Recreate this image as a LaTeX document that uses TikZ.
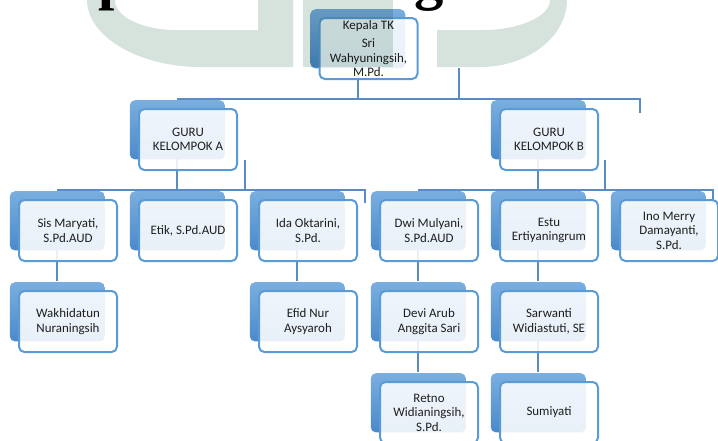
\documentclass[tikz,border=0pt]{standalone}
\usepackage{fontspec}
\setmainfont{Carlito}
\newfontfamily\headfont{Liberation Serif}
\usetikzlibrary{shadows,backgrounds}

\definecolor{boxblue}{HTML}{4A8ACB}
\definecolor{boxtop}{HTML}{7AAEDF}
\definecolor{rimblue}{HTML}{5B9BD5}
\definecolor{linkblue}{HTML}{5A8BC2}
\definecolor{markgreen}{HTML}{BBD0C6}
\definecolor{inktext}{HTML}{1E1E1E}

\begin{document}
\begin{tikzpicture}[x=0.75pt, y=0.75pt,
    member/.style={draw=rimblue, line width=1.5pt, rounded corners=4pt,
      fill=white, fill opacity=0.88, text opacity=1, text=inktext,
      minimum width=73.5pt, minimum height=45.75pt, inner sep=0pt,
      align=center, font=\fontsize{9.7}{10.9}\selectfont,
      general shadow={shadow xshift=-8.25pt, shadow yshift=7.5pt,
        shadow scale=0.97, draw=none, fill opacity=1,
        top color=boxtop, bottom color=boxblue}},
    conn/.style={draw=linkblue, line width=1.5pt}]
  \useasboundingbox (0,0) rectangle (718,-440);

  % the chart
  \path[every node/.style={member}, level distance=68.25pt,
      level 1/.style={sibling distance=270.75pt},
      level 2/.style={sibling distance=90pt},
      edge from parent/.style={draw=none}]
    (368.5,-48.5) node (kepala) {Kepala TK\\[3pt]Sri\\Wahyuningsih,\\M.Pd.}
    child {
      node (guruA) {GURU\\KELOMPOK A}
      child {
        node (sis) {Sis Maryati,\\S.Pd.AUD}
        child { node (wakhidatun) {Wakhidatun\\Nuraningsih} }
      }
      child { node (etik) {Etik, S.Pd.AUD} }
      child {
        node (ida) {Ida Oktarini,\\S.Pd.}
        child { node (efid) {Efid Nur\\Aysyaroh} }
      }
    }
    child {
      node (guruB) {GURU\\KELOMPOK B}
      child {
        node (dwi) {Dwi Mulyani,\\S.Pd.AUD}
        child {
          node (devi) {Devi Arub\\Anggita Sari}
          child { node (retno) {Retno\\Widianingsih,\\S.Pd.} }
        }
      }
      child {
        node (estu) {Estu\\Ertiyaningrum}
        child {
          node (sarwanti) {Sarwanti\\Widiastuti, SE}
          child { node (sumiyati) {Sumiyati} }
        }
      }
      child { node (ino) {Ino Merry\\Damayanti,\\S.Pd.} }
    };

  % connectors, behind the boxes
  \begin{scope}[on background layer]
    \foreach \p/\c in {kepala/guruA, kepala/guruB, guruA/sis, guruA/etik,
        guruA/ida, sis/wakhidatun, ida/efid, guruB/dwi, guruB/estu,
        guruB/ino, dwi/devi, devi/retno, estu/sarwanti, sarwanti/sumiyati}
      \draw[conn] ([xshift=-8.25pt]\p.center)
        |- ([xshift=-8.25pt,yshift=7pt]\c.north);
    % loose connector ends
    \coordinate (busTop) at ([yshift=7pt]guruA.north);
    \coordinate (busA) at ([yshift=7pt]sis.north);
    \coordinate (busB) at ([yshift=7pt]dwi.north);
    \coordinate (topEnd) at (640,-113);
    \coordinate (kepalaTail) at (459,-68);
    \coordinate (guruATail) at (245,-160);
    \coordinate (guruBTail) at (605,-160);
    \coordinate (idaEnd) at (365,-203);
    \coordinate (inoEnd) at (713,-203);
    \draw[conn] ([xshift=-8.25pt,yshift=7pt]guruB.north) -| (topEnd);
    \draw[conn] (kepalaTail) -- (kepalaTail |- busTop);
    \draw[conn] (guruATail) -- (guruATail |- busA);
    \draw[conn] (guruBTail) -- (guruBTail |- busB);
    \draw[conn] ([xshift=-8.25pt,yshift=7pt]ida.north) -| (idaEnd);
    \draw[conn] ([xshift=-8.25pt,yshift=7pt]ino.north) -| (inoEnd);
  \end{scope}

  % watermark
  \begin{scope}[fill=markgreen, fill opacity=0.6, blend mode=multiply]
    \fill (87,0) .. controls (87,-37) and (140,-67) .. (200,-67) -- (293,-67)
      -- (293,0) -- (258,0) -- (258,-30) -- (175,-30)
      .. controls (145,-30) and (115,-18) .. (115,0) -- cycle;
    \fill (303,0) rectangle (393,-67);
    \fill (437,-30) -- (437,-67) -- (480,-67)
      .. controls (530,-67) and (567,-35) .. (567,0) -- (550,0)
      .. controls (550,-18) and (515,-30) .. (485,-30) -- cycle;
  \end{scope}

  % cut title line
  \node[anchor=base west, inner sep=0pt, font=\headfont\bfseries\fontsize{44}{44}\selectfont] (titleP) at (98,2) {p};
  \node[anchor=base west, inner sep=0pt, font=\headfont\bfseries\fontsize{44}{44}\selectfont] (titleG) at (414,2) {g};
\end{tikzpicture}
\end{document}
